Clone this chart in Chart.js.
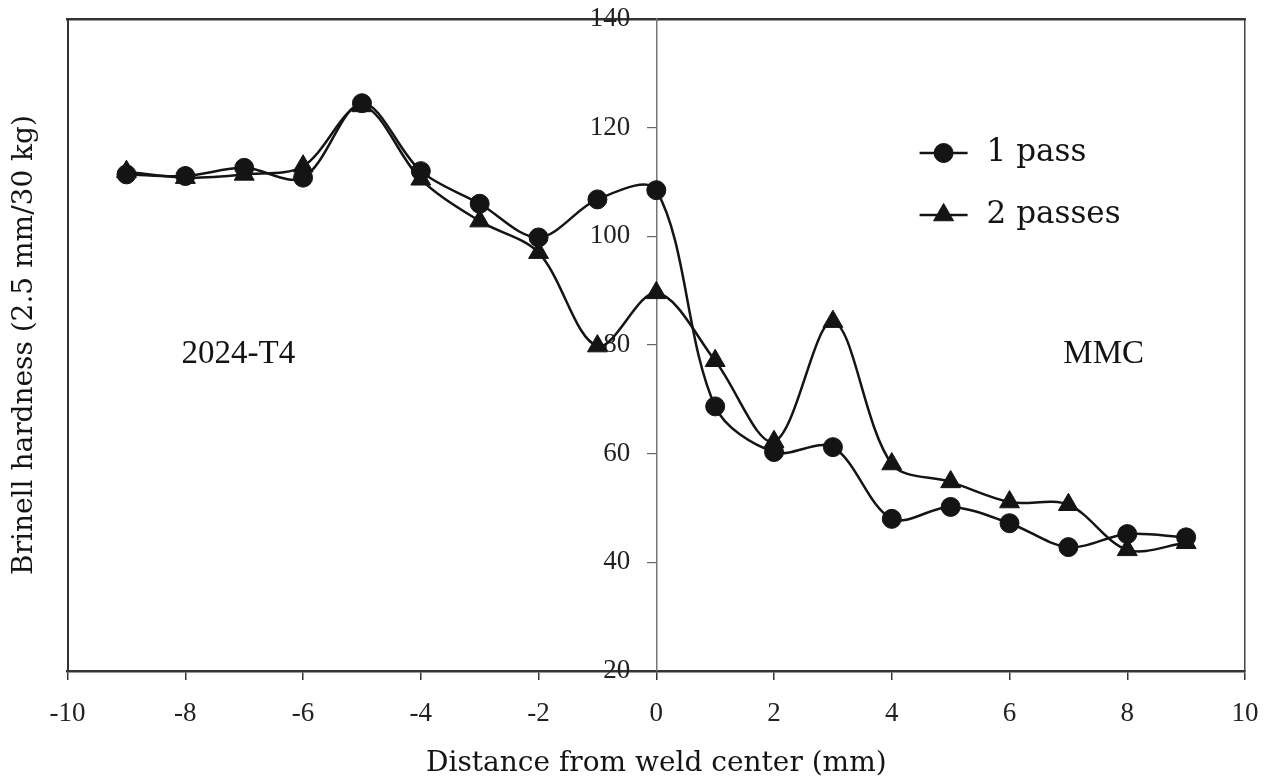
<!DOCTYPE html>
<html>
<head>
<meta charset="utf-8">
<script src="https://cdn.jsdelivr.net/npm/chart.js@4.4.1/dist/chart.umd.min.js"></script>
<style>
  html, body { margin: 0; padding: 0; background: #fff; }
  #wrap { width: 1268px; height: 784px; position: relative; }
</style>
</head>
<body>
<div id="wrap"><canvas id="hardness-chart"></canvas></div>
<script>
// Brinell hardness across the weld, 1 pass vs 2 passes
var distance = [-9, -8, -7, -6, -5, -4, -3, -2, -1, 0, 1, 2, 3, 4, 5, 6, 7, 8, 9];
var onePass = [111.4, 111.1, 112.6, 110.8, 124.5, 112.0, 106.0, 99.8, 106.8, 108.5, 68.7, 60.3, 61.2, 48.0, 50.2, 47.2, 42.8, 45.2, 44.6];
var twoPasses = [111.9, 110.8, 111.4, 112.9, 124.0, 110.5, 102.8, 97.0, 79.8, 89.6, 77.1, 62.2, 84.3, 58.1, 54.8, 51.1, 50.6, 42.3, 43.6];
var xTicks = [-10, -8, -6, -4, -2, 0, 2, 4, 6, 8, 10];
var yTicks = [20, 40, 60, 80, 100, 120, 140];
var seriesNames = ["1 pass", "2 passes"];
var zoneNames = ["2024-T4", "MMC"];

var ink = "#141414";
var serif = "'Liberation Serif', 'Times New Roman', serif";
var wide = "'DejaVu Serif', serif";

function points(ys) {
  return distance.map(function (d, i) { return { x: d, y: ys[i] }; });
}

function fixedTicks(list) {
  return function (scale) {
    scale.ticks = list.map(function (v) { return { value: v }; });
  };
}

// end labels may hang over the frame, so don't reserve room for them
function noEdgePadding(scale) {
  scale.paddingTop = 0;
  scale.paddingBottom = 0;
  scale.paddingLeft = 0;
  scale.paddingRight = 0;
}

// legend sits inside the plot, right of the weld line
var insideLegend = {
  id: "insideLegend",
  afterDraw: function (chart, args, opts) {
    var ctx = chart.ctx, area = chart.chartArea;
    ctx.save();
    chart.data.datasets.forEach(function (ds, i) {
      var x = area.left + opts.left;
      var y = area.top + opts.top + i * opts.rowGap;
      ctx.strokeStyle = ds.borderColor;
      ctx.lineWidth = ds.borderWidth;
      ctx.beginPath();
      ctx.moveTo(x, y);
      ctx.lineTo(x + opts.lineLength, y);
      ctx.stroke();
      ctx.fillStyle = ds.pointBackgroundColor;
      ctx.lineWidth = 1;
      Chart.helpers.drawPoint(ctx, {
        pointStyle: ds.pointStyle, radius: ds.pointRadius, borderWidth: 1, rotation: 0
      }, x + opts.lineLength / 2, y);
      ctx.fillStyle = ink;
      ctx.font = opts.font;
      ctx.textBaseline = "middle";
      ctx.textAlign = "left";
      ctx.fillText(ds.label, x + opts.textOffset, y);
    });
    ctx.restore();
  }
};

// material names on each side of the weld
var zoneLabels = {
  id: "zoneLabels",
  afterDatasetsDraw: function (chart, args, opts) {
    var ctx = chart.ctx, sx = chart.scales.x, sy = chart.scales.y;
    ctx.save();
    ctx.font = opts.font;
    ctx.fillStyle = ink;
    ctx.textAlign = "center";
    ctx.textBaseline = "middle";
    opts.at.forEach(function (p, i) {
      ctx.fillText(zoneNames[i], sx.getPixelForValue(p.x), sy.getPixelForValue(p.y));
    });
    ctx.restore();
  }
};

var config = {
  type: "line",
  data: {
    datasets: [
      {
        label: seriesNames[0],
        data: points(onePass),
        borderColor: ink, borderWidth: 2.5,
        pointStyle: "circle", pointRadius: 9.5,
        pointBackgroundColor: ink, pointBorderColor: ink, pointBorderWidth: 1,
        tension: 0.33, fill: false
      },
      {
        label: seriesNames[1],
        data: points(twoPasses),
        borderColor: ink, borderWidth: 2.5,
        pointStyle: "triangle", pointRadius: 11.5,
        pointBackgroundColor: ink, pointBorderColor: ink, pointBorderWidth: 1,
        tension: 0.33, fill: false
      }
    ]
  },
  options: {
    responsive: true,
    maintainAspectRatio: false,
    animation: false,
    layout: { padding: { top: 19, right: 23, bottom: 0, left: 0 } },
    plugins: {
      legend: { display: false },
      tooltip: { enabled: false },
      insideLegend: {
        left: 852, top: 134, rowGap: 62, lineLength: 48, textOffset: 67,
        font: "31px 'DejaVu Serif', serif"
      },
      zoneLabels: {
        font: "33px 'Liberation Serif', serif",
        at: [{ x: -7.1, y: 78.3 }, { x: 7.6, y: 78.3 }]
      }
    },
    scales: {
      x: {
        type: "linear", position: "bottom", min: -10, max: 10,
        afterBuildTicks: fixedTicks(xTicks),
        afterFit: noEdgePadding,
        grid: { drawOnChartArea: false, tickLength: 9, color: "#333", lineWidth: 1.5 },
        border: { color: "#333", width: 2.5 },
        ticks: { font: { family: serif, size: 27 }, color: "#222", padding: 18, maxRotation: 0, autoSkip: false },
        title: {
          display: true, text: "Distance from weld center (mm)",
          font: { family: wide, size: 28 }, color: ink,
          padding: { top: -1, bottom: 3 }
        }
      },
      xTop: {
        type: "linear", position: "top", min: -10, max: 10,
        ticks: { display: false },
        grid: { display: false, drawTicks: false },
        border: { color: "#333", width: 2.5 }
      },
      // the hardness axis runs up the weld centre line (x = 0, middle of the range)
      y: {
        type: "linear", position: "center", min: 20, max: 140,
        afterBuildTicks: fixedTicks(yTicks),
        afterFit: noEdgePadding,
        grid: { drawOnChartArea: false, tickLength: 9, color: "#666", lineWidth: 1.2 },
        border: { color: "#777", width: 1.5 },
        ticks: { font: { family: serif, size: 27 }, color: "#222", padding: 17 }
      },
      yLeft: {
        type: "linear", position: "left", min: 20, max: 140,
        ticks: { display: false },
        grid: { display: false, drawTicks: false },
        border: { color: "#333", width: 2 },
        title: {
          display: true, text: "Brinell hardness (2.5 mm/30 kg)",
          font: { family: wide, size: 28 }, color: ink,
          padding: { top: 8, bottom: 26 }
        }
      },
      yRight: {
        type: "linear", position: "right", min: 20, max: 140,
        ticks: { display: false },
        grid: { display: false, drawTicks: false },
        border: { color: "#444", width: 1.5 }
      }
    }
  },
  plugins: [insideLegend, zoneLabels]
};

var chart = new Chart(document.getElementById("hardness-chart").getContext("2d"), config);
</script>
</body>
</html>
